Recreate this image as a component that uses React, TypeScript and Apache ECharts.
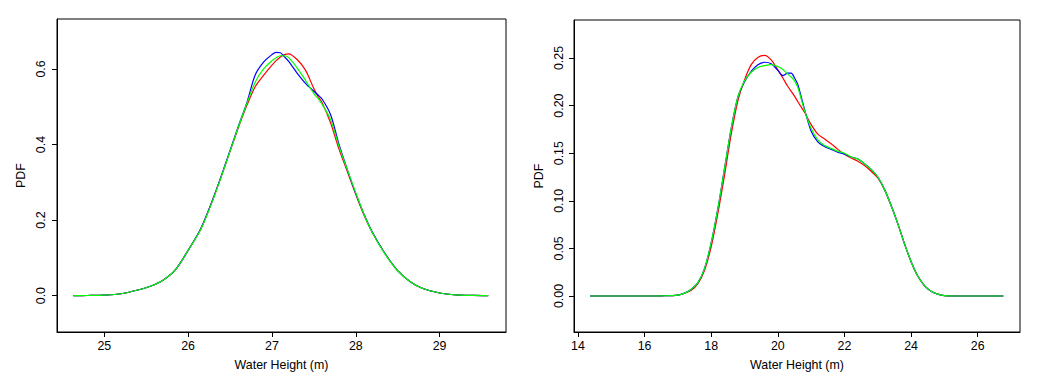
import React, { useEffect, useRef } from "react";
import * as echarts from "echarts";

// Left panel
const L_X = [24.63, 24.8, 25.0, 25.2, 25.4, 25.55, 25.7, 25.85, 26.0, 26.15, 26.3, 26.45, 26.6, 26.7, 26.8, 26.9, 27.0, 27.05, 27.1, 27.15, 27.2, 27.3, 27.4, 27.5, 27.55, 27.6, 27.7, 27.8, 27.9, 28.0, 28.1, 28.2, 28.35, 28.5, 28.65, 28.8, 29.0, 29.2, 29.4, 29.58];
const L_RED = [0, 0.0004, 0.0015, 0.005, 0.015, 0.025, 0.041, 0.069, 0.12, 0.176, 0.258, 0.35, 0.445, 0.503, 0.553, 0.583, 0.61, 0.622, 0.632, 0.638, 0.64, 0.625, 0.597, 0.548, 0.527, 0.51, 0.457, 0.388, 0.328, 0.268, 0.212, 0.166, 0.111, 0.066, 0.037, 0.019, 0.007, 0.002, 0.0005, 0];
const L_BLUE = [0, 0.0004, 0.0015, 0.005, 0.015, 0.025, 0.041, 0.069, 0.12, 0.177, 0.258, 0.352, 0.449, 0.51, 0.584, 0.618, 0.638, 0.644, 0.643, 0.632, 0.62, 0.589, 0.562, 0.541, 0.531, 0.52, 0.479, 0.4, 0.333, 0.27, 0.215, 0.167, 0.111, 0.066, 0.037, 0.019, 0.007, 0.002, 0.0005, 0];
const L_GREEN = [0, 0.0004, 0.0015, 0.005, 0.015, 0.025, 0.041, 0.069, 0.12, 0.175, 0.256, 0.35, 0.447, 0.508, 0.565, 0.6, 0.622, 0.63, 0.635, 0.635, 0.63, 0.603, 0.57, 0.535, 0.522, 0.506, 0.466, 0.395, 0.333, 0.272, 0.214, 0.166, 0.11, 0.066, 0.037, 0.019, 0.007, 0.002, 0.0005, 0];
const L_XTICKS = [25, 26, 27, 28, 29];
const L_YTICKS = [0, 0.2, 0.4, 0.6];

// Right panel
const R_X = [14.36, 15.0, 16.0, 16.5, 17.0, 17.2, 17.4, 17.6, 17.8, 18.0, 18.2, 18.4, 18.6, 18.8, 19.0, 19.2, 19.4, 19.6, 19.8, 20.0, 20.15, 20.3, 20.4, 20.5, 20.6, 20.8, 21.0, 21.2, 21.4, 21.6, 21.8, 22.0, 22.2, 22.4, 22.6, 22.8, 23.0, 23.2, 23.4, 23.6, 23.8, 24.0, 24.2, 24.4, 24.6, 24.8, 25.0, 25.5, 26.0, 26.77];
const R_RED = [0, 0, 0, 0.0002, 0.001, 0.003, 0.006, 0.013, 0.027, 0.052, 0.087, 0.127, 0.17, 0.205, 0.227, 0.243, 0.2505, 0.2527, 0.248, 0.2375, 0.229, 0.22, 0.215, 0.21, 0.204, 0.193, 0.18, 0.17, 0.165, 0.16, 0.154, 0.149, 0.145, 0.1415, 0.137, 0.131, 0.124, 0.112, 0.095, 0.076, 0.055, 0.036, 0.021, 0.011, 0.005, 0.002, 0.0005, 0, 0, 0];
const R_BLUE = [0, 0, 0, 0.0002, 0.001, 0.003, 0.007, 0.014, 0.029, 0.056, 0.092, 0.134, 0.176, 0.209, 0.225, 0.236, 0.243, 0.2455, 0.244, 0.237, 0.2315, 0.234, 0.234, 0.229, 0.222, 0.196, 0.173, 0.162, 0.157, 0.154, 0.151, 0.149, 0.146, 0.144, 0.139, 0.133, 0.125, 0.112, 0.095, 0.076, 0.055, 0.036, 0.021, 0.011, 0.005, 0.002, 0.0005, 0, 0, 0];
const R_GREEN = [0, 0, 0, 0.0002, 0.001, 0.003, 0.007, 0.014, 0.029, 0.056, 0.092, 0.134, 0.176, 0.209, 0.226, 0.235, 0.24, 0.242, 0.243, 0.241, 0.238, 0.233, 0.23, 0.226, 0.219, 0.195, 0.176, 0.164, 0.158, 0.155, 0.152, 0.15, 0.146, 0.144, 0.139, 0.133, 0.125, 0.112, 0.095, 0.076, 0.055, 0.036, 0.021, 0.011, 0.005, 0.002, 0.0005, 0, 0, 0];
const R_XTICKS = [14, 16, 18, 20, 22, 24, 26];
const R_YTICKS = [0, 0.05, 0.1, 0.15, 0.2, 0.25];

const X_TITLE = "Water Height (m)";
const Y_TITLE = "PDF";

const FONT = "'Liberation Sans', Arial, Helvetica, sans-serif";
const FS = 12.4;

const pairs = (xs: number[], ys: number[]) => xs.map((x, i) => [x, ys[i]]);

function xAxisCfg(gridIndex: number, min: number, max: number, ticks: number[]) {
  return {
    type: "value",
    gridIndex,
    min,
    max,
    name: X_TITLE,
    nameLocation: "middle",
    nameGap: 27,
    nameTextStyle: { fontSize: FS, color: "#000", fontFamily: FONT },
    axisLine: { show: true, onZero: false, lineStyle: { color: "#000", width: 1 } },
    splitLine: { show: false },
    axisTick: { show: true, length: 5, inside: false, lineStyle: { color: "#000", width: 1 }, customValues: ticks },
    axisLabel: { customValues: ticks, margin: 8, fontSize: FS, color: "#000", fontFamily: FONT },
  };
}

function yAxisCfg(gridIndex: number, min: number, max: number, ticks: number[], digits: number, nameGap: number, margin: number) {
  return {
    type: "value",
    gridIndex,
    min,
    max,
    name: Y_TITLE,
    nameLocation: "middle",
    nameGap,
    nameRotate: 90,
    nameTextStyle: { fontSize: FS, color: "#000", fontFamily: FONT },
    axisLine: { show: true, onZero: false, lineStyle: { color: "#000", width: 1 } },
    splitLine: { show: false },
    axisTick: { show: true, length: 5, inside: false, lineStyle: { color: "#000", width: 1 }, customValues: ticks },
    axisLabel: {
      customValues: ticks,
      rotate: 90,
      margin,
      fontSize: FS,
      color: "#000",
      fontFamily: FONT,
      formatter: (v: number) => v.toFixed(digits),
    },
  };
}

function lineSeries(name: string, xi: number, data: number[][], color: string) {
  return {
    name,
    type: "line",
    xAxisIndex: xi,
    yAxisIndex: xi,
    data,
    showSymbol: false,
    symbol: "none",
    smooth: 0.3,
    lineStyle: { color, width: 1.2 },
    itemStyle: { color },
    silent: true,
  };
}

export default function App() {
  const ref = useRef<HTMLDivElement>(null);
  useEffect(() => {
    if (!ref.current) return;
    const chart = echarts.init(ref.current, undefined, { renderer: "svg" });
    chart.setOption({
      animation: false,
      backgroundColor: "#fff",
      textStyle: { fontFamily: FONT },
      grid: [
        { left: 57, top: 19, width: 449, height: 313, show: true, borderColor: "#000", borderWidth: 1, backgroundColor: "transparent" },
        { left: 574, top: 20, width: 446, height: 312, show: true, borderColor: "#000", borderWidth: 1, backgroundColor: "transparent" },
      ],
      xAxis: [xAxisCfg(0, 24.436, 29.792, L_XTICKS), xAxisCfg(1, 13.88, 27.269, R_XTICKS)],
      yAxis: [
        yAxisCfg(0, -0.0962, 0.7323, L_YTICKS, 1, 30, 10),
        yAxisCfg(1, -0.0378, 0.2899, R_YTICKS, 2, 29, 9),
      ],
      series: [
        lineSeries("red-left", 0, pairs(L_X, L_RED), "#ff0000"),
        lineSeries("blue-left", 0, pairs(L_X, L_BLUE), "#0000ff"),
        lineSeries("green-left", 0, pairs(L_X, L_GREEN), "#00ff00"),
        lineSeries("red-right", 1, pairs(R_X, R_RED), "#ff0000"),
        lineSeries("blue-right", 1, pairs(R_X, R_BLUE), "#0000ff"),
        lineSeries("green-right", 1, pairs(R_X, R_GREEN), "#00ff00"),
      ],
    });
    return () => chart.dispose();
  }, []);
  return (
    <div
      ref={ref}
      style={{ position: "fixed", left: 0, top: 0, width: 1060, height: 392, background: "#fff" }}
    />
  );
}
